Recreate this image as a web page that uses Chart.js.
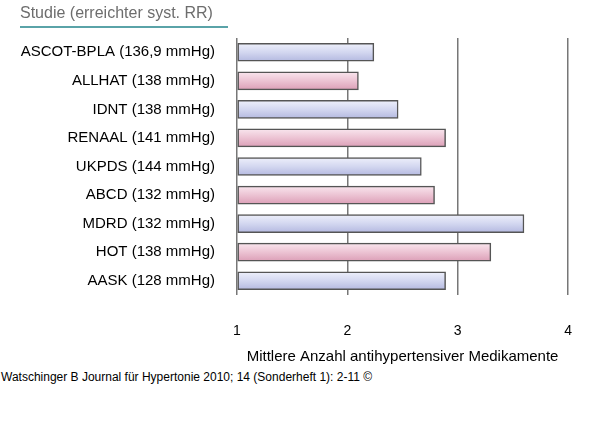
<!DOCTYPE html>
<html><head><meta charset="utf-8">
<script src="https://cdn.jsdelivr.net/npm/chart.js@4/dist/chart.umd.min.js"></script>
<style>
body{margin:0;width:600px;height:427px;background:#fff;position:relative;font-family:"Liberation Sans",Arial,sans-serif;overflow:hidden}
#t{position:absolute;left:20px;top:4px;font-size:16px;color:#6d6d6d;padding-bottom:4px;border-bottom:2px solid #5aa3a8;width:208px}
#f{position:absolute;left:1px;top:370px;font-size:12px;color:#000}
#c{position:absolute;left:0;top:0}
</style></head><body>
<canvas id="c" width="600" height="370"></canvas>
<div id="t">Studie (erreichter syst. RR)</div>
<div id="f">Watschinger B Journal für Hypertonie 2010; 14 (Sonderheft 1): 2-11 ©</div>
<script>
const categories=["ASCOT-BPLA (136,9 mmHg)","ALLHAT (138 mmHg)","IDNT (138 mmHg)","RENAAL (141 mmHg)","UKPDS (144 mmHg)","ABCD (132 mmHg)","MDRD (132 mmHg)","HOT (138 mmHg)","AASK (128 mmHg)"];
const values=[2.24,2.10,2.46,2.89,2.67,2.79,3.60,3.30,2.89];
const xTicks=[1,2,3,4];
const xTitle="Mittlere Anzahl antihypertensiver Medikamente";
function grad(ctx){
  const i=ctx.dataIndex, c=ctx.chart;
  const solid=i%2===0?'#d3d7f0':'#ecc3d3';
  const s=c.scales&&c.scales.y; if(!s) return solid;
  const y=s.getPixelForValue(i); if(!isFinite(y)) return solid;
  const h=18;
  const g=c.ctx.createLinearGradient(0,y-h/2,0,y+h/2);
  if(i%2===0){g.addColorStop(0,'#eef0fb');g.addColorStop(0.5,'#d3d7f0');g.addColorStop(1,'#b4b9e0');}
  else{g.addColorStop(0,'#f9e6ee');g.addColorStop(0.5,'#ecc3d3');g.addColorStop(1,'#dc9fb7');}
  return g;
}
new Chart(document.getElementById('c'),{
 type:'bar',
 data:{labels:categories,datasets:[{data:values,base:1,barThickness:18,borderWidth:1.5,borderColor:'#555',borderSkipped:false,
   backgroundColor:grad}]},
 options:{indexAxis:'y',responsive:false,animation:false,
  layout:{padding:{top:38,right:13,left:0,bottom:0}},
  plugins:{legend:{display:false},tooltip:{enabled:false}},
  scales:{
   x:{min:1,max:4,afterBuildTicks:a=>{a.ticks=xTicks.map(v=>({value:v}))},
      grid:{color:'#777',lineWidth:1.5,drawTicks:false},border:{display:false},
      ticks:{padding:28,color:'#000',font:{family:'Liberation Sans',size:14}},
      title:{display:true,text:xTitle,color:'#000',font:{family:'Liberation Sans',size:15},padding:{top:4}},
      afterFit:a=>{a.height=75}},
   y:{grid:{display:false},border:{display:false},
      ticks:{padding:14,color:'#000',font:{family:'Liberation Sans',size:15}},
      afterFit:a=>{a.width=237}}
  }}
});
</script></body></html>
